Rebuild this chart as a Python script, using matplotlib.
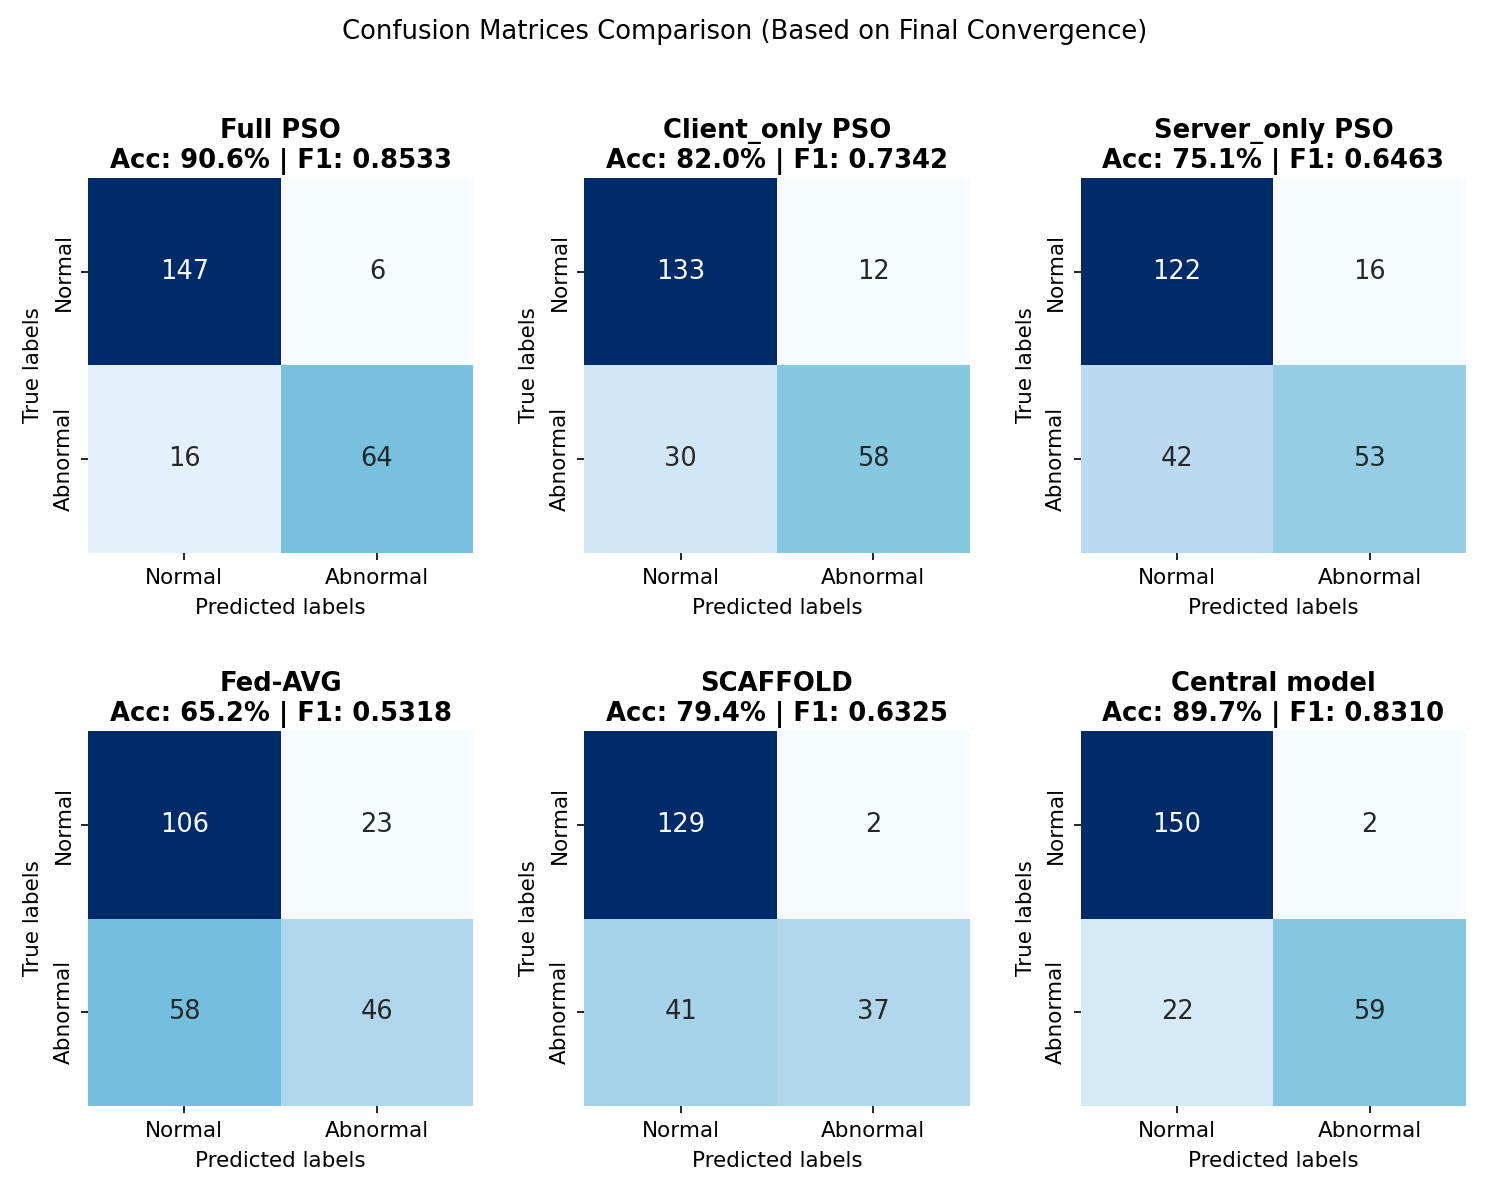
import matplotlib
matplotlib.use("Agg")
import matplotlib.pyplot as plt
import matplotlib.colors as mcolors
import seaborn as sns
import numpy as np

models = ["Full PSO", "Client_only PSO", "Server_only PSO", "Fed-AVG", "SCAFFOLD", "Central model"]
accs = [90.6, 82.0, 75.1, 65.2, 79.4, 89.7]
f1s = [0.8533, 0.7342, 0.6463, 0.5318, 0.6325, 0.8310]
cm_full = [[147, 6], [16, 64]]
cm_client = [[133, 12], [30, 58]]
cm_server = [[122, 16], [42, 53]]
cm_fedavg = [[106, 23], [58, 46]]
cm_scaffold = [[129, 2], [41, 37]]
cm_central = [[150, 2], [22, 59]]
matrices = [cm_full, cm_client, cm_server, cm_fedavg, cm_scaffold, cm_central]
class_labels = ["Normal", "Abnormal"]

# Blues with a slightly more saturated / cyan look, as in the reference image
base = plt.get_cmap("Blues")(np.linspace(0, 1, 256))[:, :3]
hsv = mcolors.rgb_to_hsv(base)
hsv[:, 1] = np.clip(hsv[:, 1] * 1.3, 0, 1)
shift = (5 / 360.0) * (1 - np.linspace(0, 1, 256) ** 2)
hsv[:, 0] = hsv[:, 0] - shift
cmap = mcolors.ListedColormap(mcolors.hsv_to_rgb(hsv))

fig, axes = plt.subplots(2, 3, figsize=(1490/150, 1193/150), dpi=150)
fig.subplots_adjust(left=88/1490, right=1466/1490, top=1-178/1193, bottom=1-1106/1193,
                    wspace=111/385, hspace=178/375)

for ax, name, acc, f1, cm in zip(axes.flat, models, accs, f1s, matrices):
    sns.heatmap(np.array(cm), annot=True, fmt="d", cmap=cmap, cbar=False, ax=ax,
                xticklabels=class_labels, yticklabels=class_labels,
                annot_kws={"fontsize": 12.3})
    ax.set_title(f"{name}\nAcc: {acc:.1f}% | F1: {f1:.4f}", fontsize=12.4, fontweight="bold",
                 pad=5)
    ax.set_xlabel("Predicted labels", fontsize=10.3, labelpad=5)
    ax.set_ylabel("True labels", fontsize=10.3, labelpad=5)
    ax.tick_params(labelsize=10.3)

fig.suptitle("Confusion Matrices Comparison (Based on Final Convergence)", fontsize=12.4,
             y=1-32/1193, va="center")
fig.savefig("out.png", dpi=150)
